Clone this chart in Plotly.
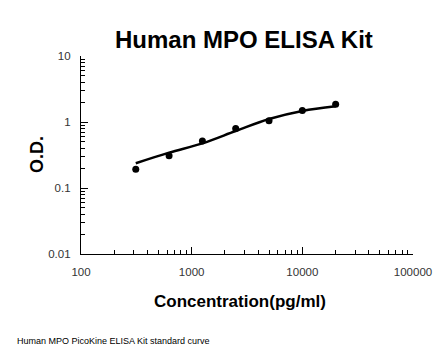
import plotly.graph_objects as go

concentration = [312.5, 625, 1250, 2500, 5000, 10000, 20000]
od_measured = [0.192, 0.309, 0.515, 0.80, 1.047, 1.50, 1.85]
od_fit = [0.237, 0.343, 0.475, 0.73, 1.11, 1.47, 1.73]

x_tickvals = [100, 1000, 10000, 100000]
x_ticktext = ["100", "1000", "10000", "100000"]
y_tickvals = [0.01, 0.1, 1, 10]
y_ticktext = ["0.01", "0.1", "1", "10"]
x_minor = [m * 10 ** d for d in (2, 3, 4) for m in range(2, 10)]
y_minor = [m * 10.0 ** d for d in (-2, -1, 0) for m in range(2, 10)]

fig = go.Figure()
fig.add_trace(go.Scatter(x=concentration, y=od_fit, mode="lines",
                         line=dict(color="black", width=2.5, shape="spline", smoothing=1.0),
                         hoverinfo="skip", showlegend=False))
fig.add_trace(go.Scatter(x=concentration, y=od_measured, mode="markers",
                         marker=dict(color="black", size=7), showlegend=False))

OFF = 8  # page body margin
W, H = 446 - OFF, 356 - OFF
L, R, T, B = 81 - OFF, 413 - OFF, 56 - OFF, 254 - OFF

axis_common = dict(showline=True, linecolor="black", linewidth=1.2, showgrid=False,
                   zeroline=False, ticks="inside", ticklen=7, tickcolor="black",
                   tickfont=dict(family="Liberation Sans, Arial", size=11.5, color="#333333"),
                   mirror=False, automargin=False)


def px(x):
    return (x - OFF - L) / (R - L)


def py(y):
    return (B - (y - OFF)) / (B - T)


fig.update_layout(
    width=W, height=H,
    margin=dict(l=L, r=W - R, t=T, b=H - B),
    paper_bgcolor="white", plot_bgcolor="white",
    xaxis=dict(type="log", range=[2, 5], tickvals=x_tickvals, ticktext=x_ticktext,
               minor=dict(ticks="inside", ticklen=4, tickcolor="black", tickvals=x_minor),
               ticklabelstandoff=7, **axis_common),
    yaxis=dict(type="log", range=[-2, 1], tickvals=y_tickvals, ticktext=y_ticktext,
               minor=dict(ticks="inside", ticklen=4, tickcolor="black", tickvals=y_minor),
               ticklabelstandoff=7, **axis_common),
    annotations=[
        dict(text="<b>Human MPO ELISA Kit</b>", x=px(244), y=py(39), xref="paper", yref="paper",
             showarrow=False, xanchor="center", yanchor="middle",
             font=dict(family="Liberation Sans, Arial", size=24, color="black")),
        dict(text="<b>Concentration(pg/ml)</b>", x=px(240), y=py(301),
             xref="paper", yref="paper", showarrow=False, xanchor="center", yanchor="middle",
             font=dict(family="Liberation Sans, Arial", size=17, color="black")),
        dict(text="<b>O.D.</b>", x=px(37), y=py(155), textangle=-90,
             xref="paper", yref="paper", showarrow=False, xanchor="center", yanchor="middle",
             font=dict(family="Liberation Sans, Arial", size=18, color="black")),
        dict(text="Human MPO PicoKine ELISA Kit standard curve", x=px(15),
             y=py(341), xref="paper", yref="paper", showarrow=False,
             xanchor="left", yanchor="middle",
             font=dict(family="Liberation Sans, Arial", size=9, color="black")),
    ],
)

fig.write_html("out.html")
